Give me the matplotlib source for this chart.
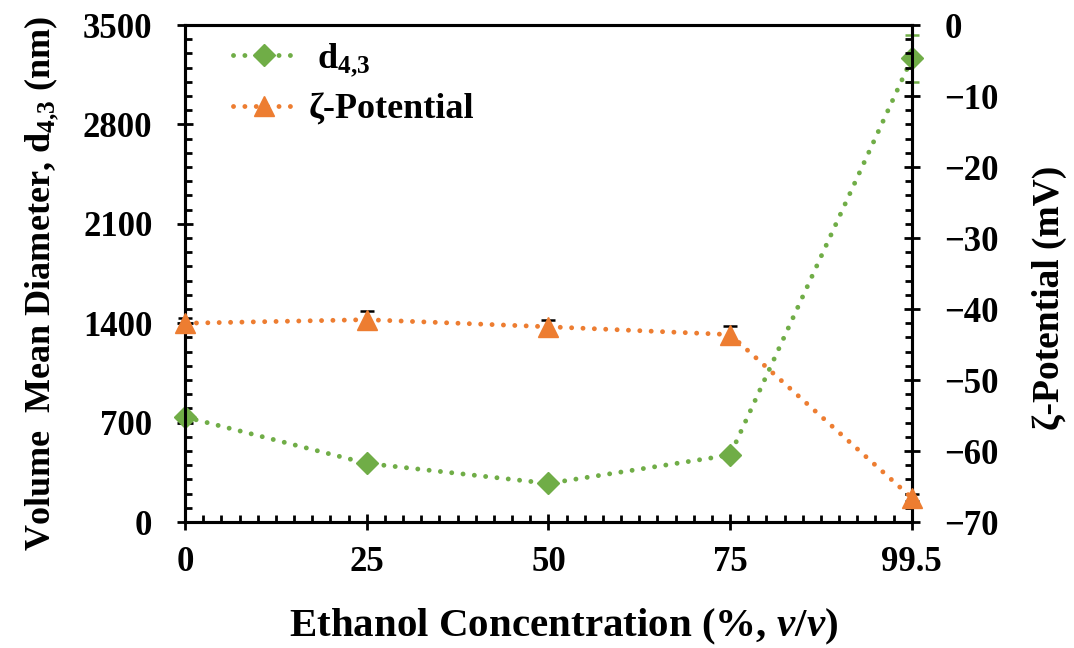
import matplotlib
matplotlib.use("Agg")
import matplotlib.pyplot as plt
from matplotlib.ticker import MultipleLocator, FixedLocator
from matplotlib.lines import Line2D

# Ethanol concentrations (categorical x positions)
concentrations = ["0", "25", "50", "75", "99.5"]

# Volume mean diameter d4,3 (nm) and its error
d43 = [740, 413, 272, 472, 3265]
d43_err = [0, 0, 0, 0, 165]

# Zeta potential (mV) and its error
zeta = [-42.0, -41.5, -42.5, -43.6, -66.6]
zeta_err = [0.8, 1.2, 1.0, 1.2, 0.5]

GREEN = "#70AD47"
ORANGE = "#ED7D31"

plt.rcParams["font.family"] = ["Liberation Serif", "DejaVu Serif"]
plt.rcParams["font.weight"] = "bold"
plt.rcParams["mathtext.fontset"] = "custom"
plt.rcParams["mathtext.rm"] = "Liberation Serif:bold"
plt.rcParams["mathtext.it"] = "Liberation Serif:italic:bold"
plt.rcParams["mathtext.bf"] = "Liberation Serif:bold"

fig = plt.figure(figsize=(10.74, 6.48), dpi=100)
ax = fig.add_axes([0.1723, 0.1944, 0.6767, 0.767])
ax2 = ax.twinx()

x = list(range(len(concentrations)))
dotted = (0, (0.01, 2.33))
LW = 3.5
D_MS = 11
T_MS = 15

c1 = ax.errorbar(x, d43, yerr=d43_err, color=GREEN, ecolor=GREEN, lw=LW,
                 linestyle=dotted, dash_capstyle="round", marker="D", ms=D_MS,
                 capsize=5, capthick=1.8, elinewidth=1.8, zorder=3)
c2 = ax2.errorbar(x, zeta, yerr=zeta_err, color=ORANGE, ecolor="black", lw=LW,
                  linestyle=dotted, dash_capstyle="round", marker="^", ms=T_MS,
                  capsize=5, capthick=1.8, elinewidth=1.8, zorder=3)
for container in (c1, c2):
    for artist in container.get_children():
        artist.set_clip_on(False)

ax.set_xlim(0, len(concentrations) - 1)
ax.set_ylim(0, 3500)
ax2.set_ylim(-70, 0)

ax.xaxis.set_major_locator(FixedLocator(x))
ax.set_xticklabels(concentrations)
ax.xaxis.set_minor_locator(MultipleLocator(0.1))
ax.yaxis.set_major_locator(MultipleLocator(700))
ax.yaxis.set_minor_locator(MultipleLocator(100))
ax2.yaxis.set_major_locator(MultipleLocator(10))
ax2.yaxis.set_minor_locator(MultipleLocator(2))

for a in (ax, ax2):
    for s in a.spines.values():
        s.set_linewidth(2.2)
    a.tick_params(which="major", direction="inout", length=11, width=2,
                  labelsize=25)
    a.tick_params(which="minor", direction="in", length=5, width=2)

ax.tick_params(axis="x", which="major", pad=12)
ax.tick_params(axis="y", which="major", pad=18)
ax2.tick_params(axis="y", which="major", pad=18)

for lab in ax.get_xticklabels() + ax.get_yticklabels() + ax2.get_yticklabels():
    lab.set_fontweight("bold")

ax.set_xlabel("Ethanol Concentration (%, $\\mathit{v/v}$)", fontsize=29.5,
              fontweight="bold", labelpad=20)
ax.xaxis.label.set_x(0.521)
ax.set_ylabel("Volume  Mean Diameter, d$_{4{,}3}$ (nm)", fontsize=26,
              fontweight="bold")
ax.yaxis.set_label_coords(-0.17, 0.48)
ax2.set_ylabel("ζ-Potential (mV)", fontsize=27, fontweight="bold")
ax2.yaxis.set_label_coords(1.165, 0.45)

handles = [
    Line2D([], [], color=GREEN, lw=LW, linestyle=dotted,
           dash_capstyle="round", marker="D", ms=D_MS),
    Line2D([], [], color=ORANGE, lw=LW, linestyle=dotted,
           dash_capstyle="round", marker="^", ms=T_MS),
]
labels = [" d$_{4{,}3}$", "ζ-Potential"]
leg = ax2.legend(handles, labels, loc="upper left", frameon=False,
                 fontsize=26, handlelength=1.72, bbox_to_anchor=(0.066, 0.967),
                 borderaxespad=0, borderpad=0, labelspacing=0.4,
                 handletextpad=0.36)
for t in leg.get_texts():
    t.set_fontweight("bold")

fig.savefig("out.png", dpi=100)
